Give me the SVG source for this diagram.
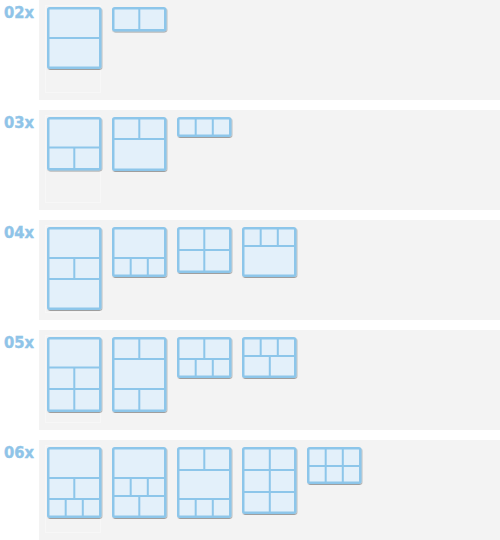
<svg xmlns="http://www.w3.org/2000/svg" width="500" height="540" viewBox="0 0 500 540">
<defs>
<filter id="sh" x="-10%" y="-10%" width="130%" height="130%">
<feDropShadow dx="0.6" dy="1" stdDeviation="0.7" flood-color="#000" flood-opacity="0.35"/>
</filter>
<style>
.panel{fill:#f3f3f3}
.ghost{fill:none;stroke:#f7f7f7;stroke-width:1}
.lbl{font-family:"DejaVu Sans",Verdana,sans-serif;font-weight:bold;font-size:15px;fill:#8fc4e8;stroke:#8fc4e8;stroke-width:0.4}
.t{fill:#e3f0fa;stroke:#8dc6ea;stroke-width:2.5;filter:url(#sh)}
.d{stroke:#8dc6ea;stroke-width:2;fill:none}
</style>
</defs>
<rect width="500" height="540" fill="#ffffff"/>
<g id="panels">
<rect class="panel" x="39" y="0" width="461" height="100"/>
<rect class="panel" x="39" y="110" width="461" height="100"/>
<rect class="panel" x="39" y="220" width="461" height="100"/>
<rect class="panel" x="39" y="330" width="461" height="100"/>
<rect class="panel" x="39" y="440" width="461" height="100"/>
<rect class="ghost" x="45.5" y="5.5" width="55" height="87"/>
<rect class="ghost" x="45.5" y="115.5" width="55" height="87"/>
<rect class="ghost" x="45.5" y="225.5" width="55" height="87"/>
<rect class="ghost" x="45.5" y="335.5" width="55" height="87"/>
<rect class="ghost" x="45.5" y="445.5" width="55" height="87"/>
</g>
<g id="labels">
<text class="lbl" x="4" y="18.3" textLength="30" lengthAdjust="spacingAndGlyphs">02x</text>
<text class="lbl" x="4" y="128.3" textLength="30" lengthAdjust="spacingAndGlyphs">03x</text>
<text class="lbl" x="4" y="238.3" textLength="30" lengthAdjust="spacingAndGlyphs">04x</text>
<text class="lbl" x="4" y="348.3" textLength="30" lengthAdjust="spacingAndGlyphs">05x</text>
<text class="lbl" x="4" y="458.3" textLength="30" lengthAdjust="spacingAndGlyphs">06x</text>
</g>
<!-- row 02x -->
<g id="r2t1" transform="translate(47,7)">
<rect class="t" x="1.25" y="1.25" width="52" height="59.5" rx="1.5"/>
<path class="d" d="M1 31H53"/>
</g>
<g id="r2t2" transform="translate(112,7)">
<rect class="t" x="1.25" y="1.25" width="52" height="22" rx="1.5"/>
<path class="d" d="M27.3 1V24"/>
</g>
<!-- row 03x -->
<g id="r3t1" transform="translate(47,117)">
<rect class="t" x="1.25" y="1.25" width="52" height="51" rx="1.5"/>
<path class="d" d="M1 30.5H53M27.3 30.5V53"/>
</g>
<g id="r3t2" transform="translate(112,117)">
<rect class="t" x="1.25" y="1.25" width="52" height="51.5" rx="1.5"/>
<path class="d" d="M1 22H53M27.3 1V22"/>
</g>
<g id="r3t3" transform="translate(177,117)">
<rect class="t" x="1.25" y="1.25" width="52" height="17.5" rx="1.5"/>
<path class="d" d="M18.7 1V19.5M35.8 1V19.5"/>
</g>
<!-- row 04x -->
<g id="r4t1" transform="translate(47,227)">
<rect class="t" x="1.25" y="1.25" width="52" height="80.5" rx="1.5"/>
<path class="d" d="M1 31H53M1 52H53M27.3 31V52"/>
</g>
<g id="r4t2" transform="translate(112,227)">
<rect class="t" x="1.25" y="1.25" width="52" height="47.5" rx="1.5"/>
<path class="d" d="M1 31H53M18.7 31V49.5M35.8 31V49.5"/>
</g>
<g id="r4t3" transform="translate(177,227)">
<rect class="t" x="1.25" y="1.25" width="52" height="43.5" rx="1.5"/>
<path class="d" d="M1 23H53M27.3 1V45.5"/>
</g>
<g id="r4t4" transform="translate(242,227)">
<rect class="t" x="1.25" y="1.25" width="52" height="47.5" rx="1.5"/>
<path class="d" d="M1 19H53M18.7 1V19M35.8 1V19"/>
</g>
<!-- row 05x -->
<g id="r5t1" transform="translate(47,337)">
<rect class="t" x="1.25" y="1.25" width="52" height="72.5" rx="1.5"/>
<path class="d" d="M1 30.5H53M1 52H53M27.3 30.5V74.5"/>
</g>
<g id="r5t2" transform="translate(112,337)">
<rect class="t" x="1.25" y="1.25" width="52" height="72.5" rx="1.5"/>
<path class="d" d="M1 22H53M1 52H53M27.3 1V22M27.3 52V74.5"/>
</g>
<g id="r5t3" transform="translate(177,337)">
<rect class="t" x="1.25" y="1.25" width="52" height="38.5" rx="1.5"/>
<path class="d" d="M1 22H53M27.3 1V22M18.7 22V40.5M35.8 22V40.5"/>
</g>
<g id="r5t4" transform="translate(242,337)">
<rect class="t" x="1.25" y="1.25" width="52" height="38.5" rx="1.5"/>
<path class="d" d="M1 19H53M18.7 1V19M35.8 1V19M27.8 19V40.5"/>
</g>
<!-- row 06x -->
<g id="r6t1" transform="translate(47,447)">
<rect class="t" x="1.25" y="1.25" width="52" height="68.5" rx="1.5"/>
<path class="d" d="M1 31H53M1 52H53M27.3 31V52M18.7 52V70.5M35.8 52V70.5"/>
</g>
<g id="r6t2" transform="translate(112,447)">
<rect class="t" x="1.25" y="1.25" width="52" height="68.5" rx="1.5"/>
<path class="d" d="M1 31H53M1 49H53M18.7 31V49M35.8 31V49M27.3 49V70.5"/>
</g>
<g id="r6t3" transform="translate(177,447)">
<rect class="t" x="1.25" y="1.25" width="52" height="68.5" rx="1.5"/>
<path class="d" d="M1 23H53M1 52H53M27.3 1V23M18.7 52V70.5M35.8 52V70.5"/>
</g>
<g id="r6t4" transform="translate(242,447)">
<rect class="t" x="1.25" y="1.25" width="52" height="64.5" rx="1.5"/>
<path class="d" d="M1 23H53M1 45H53M27.8 1V66.5"/>
</g>
<g id="r6t5" transform="translate(307,447)">
<rect class="t" x="1.25" y="1.25" width="52" height="34.5" rx="1.5"/>
<path class="d" d="M1 19H53M18.7 1V36.5M35.8 1V36.5"/>
</g>
</svg>
